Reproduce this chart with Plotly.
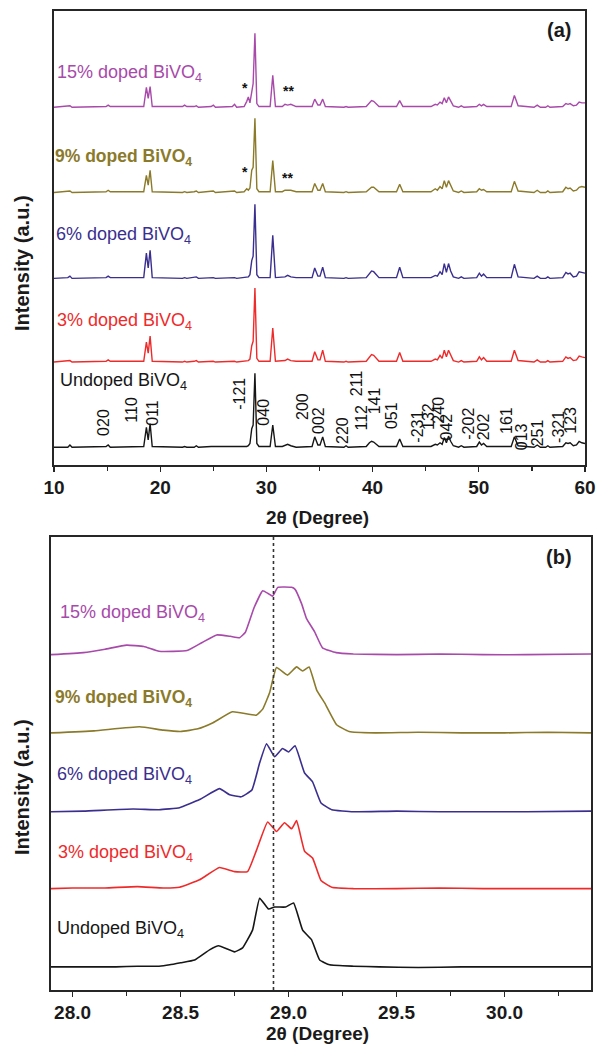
import plotly.graph_objects as go

# ---------------- data ----------------
series_labels = ["Undoped BiVO<sub>4</sub>", "3% doped BiVO<sub>4</sub>", "6% doped BiVO<sub>4</sub>",
                 "9% doped BiVO<sub>4</sub>", "15% doped BiVO<sub>4</sub>"]
colors = ["#161616", "#ee2b2b", "#3a2f8e", "#8b7a2a", "#a84aaa"]
offsets = [0, 115, 228, 344, 459]

# panel (a): full pattern, 2theta 10-60
two_theta_a = [10.0, 11.3, 11.5, 11.7, 14.9, 15.1, 15.3, 18.45, 18.7, 18.87,
               19.05, 19.25, 22.1, 22.3, 22.5, 23.2, 23.4, 23.6, 24.8, 25.0,
               25.2, 26.8, 27.0, 27.2, 27.9, 28.15, 28.3, 28.45, 28.62, 28.75,
               28.92, 29.1, 29.3, 30.35, 30.6, 30.85, 31.5, 31.75, 32.0, 32.3,
               32.8, 34.3, 34.55, 34.85, 35.05, 35.3, 35.55, 37.3, 37.5, 37.7,
               39.4, 39.7, 39.9, 40.1, 40.3, 40.6, 42.25, 42.55, 42.85, 45.5,
               45.9, 46.1, 46.35, 46.55, 46.75, 46.95, 47.15, 47.35, 47.6, 48.1,
               48.35, 48.6, 49.8, 50.05, 50.25, 50.45, 50.75, 53.05, 53.35, 53.7,
               55.2, 55.5, 55.8, 56.3, 56.5, 56.7, 57.9, 58.2, 58.4, 58.6,
               58.9, 59.2, 59.45, 59.7, 60.0]

undoped_a = [0, 0, 3, 0, 1, 3, 0, 1, 27, 10,
             32, 1, 0, 1, 0, 0, 2, 0, 1, 1,
             0, 0, 1, 0, 1, 1, 2, 5, 25, 30,
             100, 5, 1, 1, 30, 1, 1, 2, 4, 2,
             0, 1, 14, 3, 3, 14, 1, 0, 2, 0,
             1, 6, 8, 7, 5, 1, 1, 11, 1, 1,
             4, 3, 6, 4, 13, 6, 15, 8, 2, 0,
             2, 0, 1, 7, 3, 5, 1, 1, 14, 2,
             0, 3, 0, 0, 2, 0, 1, 6, 5, 6,
             2, 3, 8, 6, 5]
doped3_a = [0, 1, 2, 0, 1, 3, 1, 1, 27, 12,
            35, 1, 0, 1, 0, 1, 2, 0, 1, 1,
            0, 1, 1, 0, 1, 1, 2, 4, 22, 28,
            100, 5, 1, 1, 46, 1, 1, 2, 4, 2,
            1, 1, 14, 3, 3, 16, 1, 0, 1, 0,
            1, 7, 10, 9, 6, 1, 1, 13, 1, 1,
            4, 3, 9, 5, 16, 7, 16, 9, 2, 0,
            2, 0, 1, 7, 3, 6, 1, 1, 16, 2,
            0, 3, 0, 0, 2, 0, 1, 7, 5, 6,
            2, 3, 8, 7, 6]
doped6_a = [0, 1, 3, 0, 1, 3, 1, 1, 34, 14,
            38, 1, 0, 1, 0, 1, 2, 0, 1, 1,
            0, 1, 1, 0, 1, 1, 2, 5, 24, 30,
            100, 5, 1, 1, 58, 1, 1, 2, 4, 2,
            1, 1, 14, 3, 3, 15, 1, 0, 1, 0,
            1, 7, 10, 9, 6, 1, 1, 15, 1, 1,
            4, 3, 9, 5, 20, 8, 20, 10, 2, 0,
            2, 0, 1, 7, 3, 6, 1, 1, 19, 2,
            0, 3, 0, 0, 2, 0, 1, 8, 6, 7,
            2, 3, 9, 8, 7]
doped9_a = [0, 1, 2, 0, 1, 3, 1, 1, 23, 10,
            30, 1, 0, 1, 0, 1, 2, 0, 1, 2,
            0, 1, 2, 0, 1, 5, 3, 6, 30, 34,
            100, 5, 1, 1, 43, 1, 1, 3, 3, 3,
            1, 1, 12, 3, 3, 12, 1, 0, 1, 0,
            1, 5, 7, 7, 5, 1, 1, 11, 1, 1,
            5, 3, 8, 5, 16, 7, 16, 9, 2, 0,
            2, 0, 1, 5, 3, 4, 1, 1, 15, 2,
            0, 3, 0, 0, 2, 0, 1, 7, 5, 6,
            2, 3, 7, 8, 7]
doped15_a = [0, 1, 2, 0, 1, 3, 1, 1, 27, 12,
             28, 1, 1, 3, 1, 1, 2, 0, 1, 3,
             0, 1, 4, 0, 1, 8, 14, 6, 25, 32,
             100, 5, 1, 1, 43, 1, 1, 4, 3, 4,
             1, 1, 11, 3, 3, 11, 1, 0, 1, 0,
             1, 6, 9, 8, 5, 1, 1, 9, 1, 1,
             4, 3, 7, 5, 13, 6, 14, 8, 2, 0,
             2, 0, 1, 4, 2, 4, 1, 1, 16, 2,
             0, 3, 0, 0, 2, 0, 1, 5, 4, 5,
             2, 3, 7, 6, 6]

# hkl reflections (panel a)
hkl_labels = ["020", "110", "011", "-121", "040", "200", "002", "220", "211", "112", "141", "051",
              "-231", "132", "240", "042", "-202", "202", "161", "013", "251", "-321", "123"]
hkl_pos = [14.6, 17.3, 19.2, 27.5, 29.7, 33.4, 34.9, 37.1, 38.5, 39.0, 40.2, 41.8,
           44.2, 45.2, 46.2, 47.0, 49.0, 50.4, 52.6, 54.1, 55.5, 57.5, 58.6]

# panel (b): zoom on the (-121) reflection
undoped_b_x = [27.9, 28.0, 28.1, 28.2, 28.3, 28.4, 28.45, 28.5, 28.565, 28.634, 28.676, 28.75,
               28.787, 28.833, 28.866, 28.907, 28.935, 28.986, 29.023, 29.065, 29.106, 29.144,
               29.19, 29.3, 29.42, 29.6, 29.8, 30.0, 30.2, 30.4]
undoped_b_y = [0, 0, 0, 0, 1, 1, 3, 6, 10, 25, 31, 22,
               28, 54, 101, 85, 88, 88, 94, 54, 40, 10,
               3, 1, 0, -1, 0, 0, 0, 0]
doped3_b_x = [27.9, 28.0, 28.15, 28.3, 28.42, 28.495, 28.588, 28.68, 28.75, 28.81, 28.852, 28.903,
              28.944, 28.981, 29.014, 29.037, 29.074, 29.111, 29.15, 29.2, 29.3, 29.5, 29.7, 29.9,
              30.1, 30.4]
doped3_b_y = [0, 1, 1, 3, 1, 2, 13, 31, 25, 25, 57, 98,
              84, 97, 88, 100, 55, 45, 12, 2, 0, 0, 1, 0,
              0, 0]
doped6_b_x = [27.9, 28.05, 28.28, 28.4, 28.495, 28.588, 28.68, 28.727, 28.78, 28.83, 28.866, 28.898,
              28.935, 28.972, 29.0, 29.03, 29.074, 29.111, 29.15, 29.2, 29.3, 29.5, 29.7, 29.9,
              30.1, 30.4]
doped6_b_y = [0, 1, 4, 3, 6, 18, 34, 25, 22, 32, 72, 100,
              81, 93, 88, 97, 57, 44, 13, 3, 0, 1, 0, 0,
              0, 1]
doped9_b_x = [27.9, 28.1, 28.31, 28.42, 28.5, 28.58, 28.65, 28.74, 28.85, 28.88, 28.912, 28.944,
              28.995, 29.037, 29.065, 29.095, 29.13, 29.167, 29.222, 29.28, 29.4, 29.6, 29.8, 30.0,
              30.2, 30.4]
doped9_b_y = [0, 3, 9, 4, 2, 6, 15, 31, 26, 35, 59, 96,
              85, 97, 91, 97, 63, 44, 12, 2, 0, 1, 0, 0,
              1, 0]
doped15_b_x = [27.9, 28.05, 28.15, 28.25, 28.33, 28.4, 28.53, 28.6, 28.667, 28.73, 28.773, 28.8,
               28.84, 28.88, 28.905, 28.926, 28.95, 29.014, 29.03, 29.06, 29.083, 29.12, 29.157,
               29.22, 29.3, 29.5, 29.7, 29.9, 30.1, 30.4]
doped15_b_y = [0, 3, 8, 14, 12, 5, 6, 18, 29, 27, 25, 33,
               69, 94, 90, 86, 99, 99, 96, 75, 53, 34, 10,
               3, 1, 0, 1, 0, 0, 1]

ref_line_b = 28.93

# ---------------- figure ----------------
W, H = 601, 1046
FONT = "Arial, 'Liberation Sans', sans-serif"


def px_x(p):
    return p / W


def px_y(p):
    return 1 - p / H


fig = go.Figure()

series_a = [undoped_a, doped3_a, doped6_a, doped9_a, doped15_a]
for ys, off, c in zip(series_a, offsets, colors):
    fig.add_trace(go.Scatter(x=two_theta_a, y=[v + off for v in ys], mode="lines",
                             line=dict(color=c, width=1.4), xaxis="x", yaxis="y",
                             showlegend=False, hoverinfo="skip"))

series_b = [(undoped_b_x, undoped_b_y), (doped3_b_x, doped3_b_y), (doped6_b_x, doped6_b_y),
            (doped9_b_x, doped9_b_y), (doped15_b_x, doped15_b_y)]
for (xs, ys), off, c in zip(series_b, offsets, colors):
    fig.add_trace(go.Scatter(x=xs, y=[v + off for v in ys], mode="lines",
                             line=dict(color=c, width=1.6, shape="spline", smoothing=0.35),
                             xaxis="x2", yaxis="y2", showlegend=False, hoverinfo="skip"))

axis_line = dict(showline=True, linecolor="#262626", linewidth=1.6, mirror=True,
                 showgrid=False, zeroline=False, automargin=False)
tickfont = dict(family=FONT, size=19, color="#1a1a1a", weight="bold")

fig.update_layout(
    template="none",
    width=W, height=H, autosize=False,
    margin=dict(l=0, r=0, t=0, b=0, pad=0),
    paper_bgcolor="white", plot_bgcolor="white",
    xaxis=dict(domain=[px_x(54), px_x(585)], range=[10, 60], anchor="y",
               tickvals=[10, 20, 30, 40, 50, 60], ticks="outside", ticklen=5, tickwidth=1.4,
               tickcolor="#262626", tickfont=tickfont,
               minor=dict(dtick=5, tick0=10, ticks="outside", ticklen=4, tickcolor="#262626", tickwidth=1.2),
               **axis_line),
    yaxis=dict(domain=[px_y(465), px_y(11)], range=[-24, 589], anchor="x",
               showticklabels=False, ticks="", **axis_line),
    xaxis2=dict(domain=[px_x(51), px_x(591)], range=[27.9, 30.4], anchor="y2",
                tickvals=[28.0, 28.5, 29.0, 29.5, 30.0], ticktext=["28.0", "28.5", "29.0", "29.5", "30.0"],
                ticks="outside", ticklen=5, tickwidth=1.4, tickcolor="#262626", tickfont=tickfont,
                minor=dict(dtick=0.25, tick0=28.0, ticks="outside", ticklen=4, tickcolor="#262626", tickwidth=1.2),
                **axis_line),
    yaxis2=dict(domain=[px_y(990), px_y(537)], range=[-34, 632], anchor="x2",
                showticklabels=False, ticks="", **axis_line),
)

fig.add_shape(type="line", xref="x2", yref="y2 domain", x0=ref_line_b, x1=ref_line_b, y0=0, y1=1,
              line=dict(color="#333333", width=1.6, dash="dot"))

ann = []
# series labels
lab_a = [(58, 381), (55, 322), (54, 235), (53, 157), (55, 73)]
lab_b = [(55, 929), (56, 853), (55, 775), (53, 698), (58, 613)]
for i, (txt, c) in enumerate(zip(series_labels, colors)):
    bold = (i == 3)
    for (lx, ly) in (lab_a[i], lab_b[i]):
        ann.append(dict(xref="paper", yref="paper", x=px_x(lx), y=px_y(ly), text=txt,
                        xanchor="left", yanchor="middle", showarrow=False,
                        font=dict(family=FONT, size=17.5 if bold else 18, color=c,
                                  weight="bold" if bold else "normal")))

# hkl labels (rotated)
hkl_y = [34, 50, 46, 72, 47, 55, 36, 23, 86, 40, 63, 43,
         28, 42, 50, 28, 32, 27, 36, 14, 19, 28, 36]
for t, xp, yp in zip(hkl_labels, hkl_pos, hkl_y):
    ann.append(dict(xref="x", yref="y", x=xp, y=yp, text=t, textangle=-90, showarrow=False,
                    xanchor="center", yanchor="middle",
                    font=dict(family=FONT, size=16, color="#111111")))

# impurity markers
for t, xp, yp in [("*", 28.0, 485), ("**", 32.05, 481), ("*", 28.0, 371), ("**", 32.0, 363)]:
    ann.append(dict(xref="x", yref="y", x=xp, y=yp, text=t, showarrow=False,
                    xanchor="center", yanchor="middle",
                    font=dict(family=FONT, size=14, color="#111111", weight="bold")))

# panel tags
for t, yp in [("(a)", 30), ("(b)", 557)]:
    ann.append(dict(xref="paper", yref="paper", x=px_x(559), y=px_y(yp), text=t, showarrow=False,
                    xanchor="center", yanchor="middle",
                    font=dict(family=FONT, size=20, color="#1a1a1a", weight="bold")))

# axis titles
for yp in (517, 1033):
    ann.append(dict(xref="paper", yref="paper", x=px_x(317), y=px_y(yp), text="2θ (Degree)",
                    showarrow=False, xanchor="center", yanchor="middle",
                    font=dict(family=FONT, size=19, color="#1a1a1a", weight="bold")))
for yp in (263, 787):
    ann.append(dict(xref="paper", yref="paper", x=px_x(22), y=px_y(yp), text="Intensity (a.u.)",
                    textangle=-90, showarrow=False, xanchor="center", yanchor="middle",
                    font=dict(family=FONT, size=20, color="#1a1a1a", weight="bold")))

fig.update_layout(annotations=ann)

fig.write_html("out.html", config={"displayModeBar": False, "staticPlot": True},
               post_script="document.body.style.margin='0';document.body.style.overflow='hidden';")
